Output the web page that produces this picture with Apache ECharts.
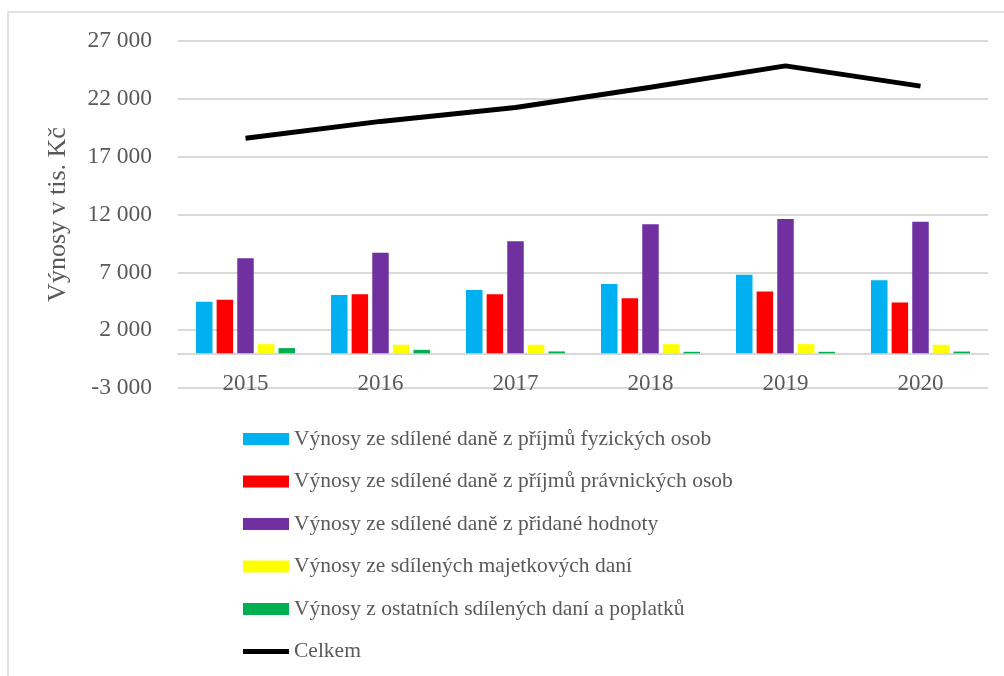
<!DOCTYPE html>
<html>
<head>
<meta charset="utf-8">
<script src="https://cdn.jsdelivr.net/npm/echarts@6/dist/echarts.min.js"></script>
<style>
  html, body { margin: 0; padding: 0; background: #fff; }
  #main { width: 1004px; height: 676px; }
</style>
</head>
<body>
<div id="main"></div>
<script>
// data (tis. Kč)
var years = ['2015', '2016', '2017', '2018', '2019', '2020'];
var fyzicke = [4450, 5050, 5480, 6000, 6800, 6320];
var pravnicke = [4620, 5110, 5110, 4770, 5340, 4390];
var dph = [8220, 8700, 9690, 11150, 11610, 11380];
var majetkove = [790, 740, 740, 790, 790, 740];
var ostatni = [450, 300, 160, 130, 130, 150];
var celkem = [18600, 20050, 21250, 23000, 24850, 23100];

var names = [
  'Výnosy ze sdílené daně z příjmů fyzických osob',
  'Výnosy ze sdílené daně z příjmů právnických osob',
  'Výnosy ze sdílené daně z přidané hodnoty',
  'Výnosy ze sdílených majetkových daní',
  'Výnosy z ostatních sdílených daní a poplatků',
  'Celkem'
];
var colors = ['#00B0F0', '#FF0000', '#7030A0', '#FFFF00', '#00B050', '#000000'];

var font = 'Liberation Serif, Times New Roman, serif';
var txt = '#595959';

function fmt(v) {
  var s = Math.abs(v).toString().replace(/\B(?=(\d{3})+(?!\d))/g, ' ');
  return (v < 0 ? '-' : '') + s;
}

var myChart = echarts.init(document.getElementById('main'));

var barSeries = [fyzicke, pravnicke, dph, majetkove, ostatni].map(function (d, i) {
  return {
    name: names[i],
    type: 'bar',
    data: d,
    barWidth: 16.5,
    barGap: '25%',
    itemStyle: { color: colors[i] }
  };
});

var option = {
  animation: false,
  textStyle: { fontFamily: font },
  graphic: [{
    type: 'rect',
    shape: { x: 8, y: 12, width: 1100, height: 700 },
    style: { fill: 'none', stroke: '#d9d9d9', lineWidth: 1.5 }
  }],
  grid: { left: 178, right: 16, top: 41, bottom: 288 },
  legend: {
    orient: 'vertical',
    left: 243,
    top: 428,
    padding: 0,
    itemWidth: 46,
    itemHeight: 12,
    itemGap: 20.5,
    textStyle: { fontFamily: font, fontSize: 21.5, color: txt },
    data: names.map(function (n, i) {
      return i < 5
        ? { name: n, icon: 'rect' }
        : { name: n, icon: 'path://M0,0L46,0L46,5L0,5Z', itemStyle: { color: '#000' } };
    })
  },
  xAxis: {
    type: 'category',
    data: years,
    axisLine: { onZero: true, lineStyle: { color: '#d9d9d9', width: 2 } },
    axisTick: { show: false },
    axisLabel: { fontSize: 23, color: txt, margin: -16, fontFamily: font }
  },
  yAxis: {
    type: 'value',
    min: -3000,
    max: 27000,
    interval: 5000,
    name: 'Výnosy v tis. Kč',
    nameLocation: 'middle',
    nameGap: 107,
    nameTextStyle: { fontSize: 26, color: txt, fontFamily: font },
    axisLine: { show: false },
    axisTick: { show: false },
    splitLine: { lineStyle: { color: '#d9d9d9', width: 2 } },
    axisLabel: { fontSize: 23.5, color: txt, margin: 26, fontFamily: font, formatter: fmt }
  },
  series: barSeries.concat([{
    name: names[5],
    type: 'line',
    data: celkem,
    symbol: 'none',
    lineStyle: { color: '#000', width: 5 },
    itemStyle: { color: '#000' }
  }])
};

myChart.setOption(option);
</script>
</body>
</html>
